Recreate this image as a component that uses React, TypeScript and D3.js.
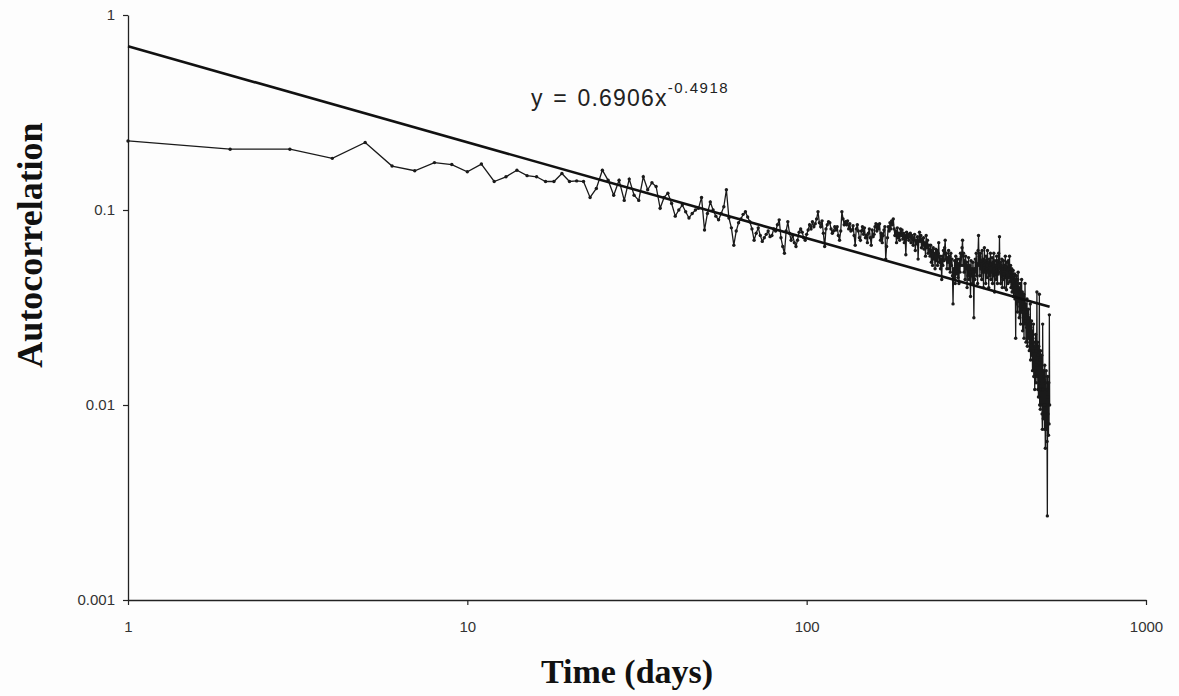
import React, { useEffect, useRef } from "react";
import * as d3 from "d3";

const width = 1179;
const height = 696;
const plot = { left: 128, right: 1146, top: 15, bottom: 600 };

const xTicks = [1, 10, 100, 1000];
const xTickLabels = ["1", "10", "100", "1000"];
const yTicks = [0.001, 0.01, 0.1, 1];
const yTickLabels = ["0.001", "0.01", "0.1", "1"];

// trendline y = a * x^b
const fitCoef = 0.6906;
const fitExp = -0.4918;
const fitRange = [1, 520];

// autocorrelation by lag (days), in thousandths
const acfLag1to100 = [
  226, 205, 205, 184, 222, 168, 159, 175, 171, 157,
  172, 140, 148, 160, 150, 148, 140, 140, 154, 140,
  141, 140, 116, 129, 160, 142, 119, 142, 112, 144,
  119, 112, 148, 127, 138, 132, 102, 116, 122, 108,
  93, 100, 106, 98, 91, 96, 100, 102, 116, 79,
  96, 110, 100, 93, 89, 96, 104, 127, 91, 81,
  66, 78, 86, 90, 95, 98, 92, 87, 80, 70,
  76, 81, 74, 69, 72, 75, 78, 73, 74, 80,
  78, 84, 89, 72, 65, 60, 78, 87, 76, 70,
  74, 68, 65, 70, 77, 80, 77, 72, 70, 75
];
const acfLag101to300 = [
  79, 84, 80, 87, 82, 85, 90, 98, 86, 82,
  88, 76, 65, 80, 84, 87, 86, 80, 76, 78,
  82, 79, 82, 74, 70, 78, 98, 90, 84, 87,
  84, 88, 80, 85, 78, 79, 83, 74, 66, 80,
  84, 78, 72, 70, 78, 82, 75, 81, 72, 74,
  68, 76, 80, 72, 66, 79, 73, 75, 82, 85,
  78, 84, 80, 85, 70, 76, 68, 74, 79, 82,
  56, 65, 72, 82, 78, 86, 80, 88, 84, 90,
  80, 74, 78, 68, 81, 72, 76, 70, 80, 74,
  79, 71, 76, 68, 74, 59, 77, 72, 75, 70,
  73, 76, 68, 74, 71, 66, 72, 75, 62, 70,
  67, 73, 56, 70, 77, 69, 74, 64, 71, 66,
  72, 63, 68, 58, 74, 64, 70, 60, 66, 62,
  58, 66, 54, 62, 52, 64, 56, 60, 50, 63,
  55, 62, 52, 60, 68, 54, 58, 50, 56, 44,
  58, 52, 62, 55, 64, 70, 56, 60, 50, 57,
  54, 62, 50, 58, 48, 60, 52, 56, 46, 33,
  50, 44, 55, 42, 58, 50, 47, 56, 45, 53,
  42, 56, 48, 60, 52, 58, 64, 70, 52, 60,
  48, 55, 44, 58, 50, 54, 40, 52, 46, 57
];
const acfLag301to520 = [
  44, 52, 48, 36, 55, 46, 50, 42, 54, 47,
  28, 50, 44, 56, 48, 60, 46, 53, 42, 62,
  74, 52, 58, 46, 60, 50, 55, 44, 62, 48,
  56, 40, 52, 64, 48, 55, 42, 58, 50, 45,
  62, 48, 54, 40, 56, 46, 52, 60, 44, 53,
  48, 57, 42, 54, 46, 60, 50, 38, 55, 47,
  52, 44, 58, 49, 42, 55, 47, 60, 50, 73,
  48, 54, 42, 52, 46, 56, 40, 50, 44, 55,
  47, 52, 40, 50, 58, 45, 51, 39, 54, 46,
  49, 42, 55, 45, 50, 58, 43, 48, 52, 40,
  46, 50, 38, 47, 43, 49, 36, 45, 41, 47,
  35, 44, 22, 40, 46, 33, 42, 30, 44, 48,
  34, 40, 28, 38, 32, 42, 26, 36, 30, 44,
  30, 38, 24, 34, 28, 37, 22, 32, 27, 42,
  26, 33, 21, 30, 25, 35, 20, 29, 24, 31,
  22, 28, 19, 26, 21, 33, 17, 25, 20, 27,
  18, 24, 15, 22, 19, 26, 14, 21, 17, 12,
  20, 15, 23, 13, 19, 16, 38, 14, 21, 12,
  18, 11, 20, 13, 37, 10, 17, 9.5, 19, 12,
  16, 10, 18, 9, 7.5, 26, 12, 8.5, 15, 10,
  14, 7.5, 16, 10, 6, 13, 8, 15, 7.5, 12,
  6.5, 2.7, 14, 9, 11, 7, 13, 8, 29, 10
];

const draw = (node: SVGSVGElement) => {
  const svg = d3.select(node);
  svg.selectAll("*").remove();

  const data = [...acfLag1to100, ...acfLag101to300, ...acfLag301to520].map(
    (v, i) => ({ x: i + 1, y: v / 1000 })
  );

  const xScale = d3.scaleLog().domain([1, 1000]).range([plot.left, plot.right]);
  const yScale = d3.scaleLog().domain([0.001, 1]).range([plot.bottom, plot.top]);

  svg.append("rect").attr("width", width).attr("height", height).attr("fill", "#fdfdfd");

  // axes
  const yAxis = svg
    .append("g")
    .attr("transform", "translate(" + plot.left + ",0)")
    .call(
      d3
        .axisLeft(yScale)
        .tickValues(yTicks)
        .tickFormat((d, i) => yTickLabels[i])
        .tickSize(5)
        .tickSizeOuter(0)
        .tickPadding(8)
    );
  const xAxis = svg
    .append("g")
    .attr("transform", "translate(0," + plot.bottom + ")")
    .call(
      d3
        .axisBottom(xScale)
        .tickValues(xTicks)
        .tickFormat((d, i) => xTickLabels[i])
        .tickSize(5)
        .tickSizeOuter(0)
        .tickPadding(16)
    );
  [xAxis, yAxis].forEach(g => {
    g.select(".domain").attr("stroke", "#222").attr("stroke-width", 1.3);
    g.selectAll(".tick line").attr("stroke", "#222").attr("stroke-width", 1.2);
    g.selectAll("text")
      .attr("fill", "#333")
      .style("font-family", "'Liberation Sans', Arial, sans-serif")
      .style("font-size", "15px");
  });

  // series
  const line = d3
    .line<{ x: number; y: number }>()
    .x(d => xScale(d.x))
    .y(d => yScale(d.y));
  svg
    .append("path")
    .datum(data)
    .attr("fill", "none")
    .attr("stroke", "#1a1a1a")
    .attr("stroke-width", 1.3)
    .attr("d", line);
  svg
    .append("g")
    .selectAll("circle")
    .data(data)
    .enter()
    .append("circle")
    .attr("cx", d => xScale(d.x))
    .attr("cy", d => yScale(d.y))
    .attr("r", 1.7)
    .attr("fill", "#1a1a1a");

  // power-law trendline
  const fit = fitRange.map(x => ({ x, y: fitCoef * Math.pow(x, fitExp) }));
  svg
    .append("path")
    .datum(fit)
    .attr("fill", "none")
    .attr("stroke", "#111")
    .attr("stroke-width", 2.6)
    .attr("d", line);

  // equation
  const eq = svg
    .append("text")
    .attr("x", 531)
    .attr("y", 106)
    .attr("fill", "#222")
    .style("font-family", "'Liberation Sans', Arial, sans-serif")
    .style("font-size", "23px")
    .style("letter-spacing", "1.2px")
    .style("word-spacing", "2px");
  eq.append("tspan").text("y = " + fitCoef + "x");
  eq.append("tspan")
    .attr("dy", -13)
    .style("font-size", "15px")
    .style("letter-spacing", "1.5px")
    .text(String(fitExp));

  // axis titles
  svg
    .append("text")
    .attr("x", 627)
    .attr("y", 683)
    .attr("text-anchor", "middle")
    .attr("fill", "#111")
    .style("font-family", "'Liberation Serif', 'Times New Roman', serif")
    .style("font-weight", "bold")
    .style("font-size", "34px")
    .text("Time (days)");
  svg
    .append("text")
    .attr("transform", "translate(42,245) rotate(-90)")
    .attr("text-anchor", "middle")
    .attr("fill", "#111")
    .style("font-family", "'Liberation Serif', 'Times New Roman', serif")
    .style("font-weight", "bold")
    .style("font-size", "36px")
    .text("Autocorrelation");
};

const App = () => {
  const ref = useRef<SVGSVGElement>(null);
  useEffect(() => {
    if (ref.current) draw(ref.current);
  }, []);
  return (
    <svg
      ref={ref}
      width={width}
      height={height}
      style={{ position: "absolute", left: 0, top: 0 }}
    />
  );
};

export default App;
